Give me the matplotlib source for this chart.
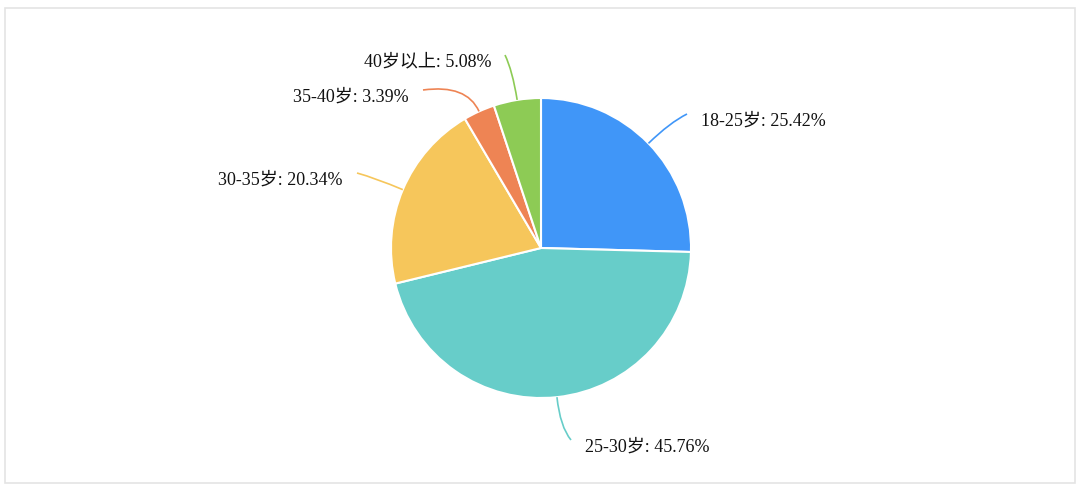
import matplotlib
matplotlib.use('Agg')
import matplotlib.pyplot as plt
import numpy as np
from matplotlib.path import Path
from matplotlib.patches import PathPatch, Rectangle

# 年龄分布数据
labels = ['18-25岁', '25-30岁', '30-35岁', '35-40岁', '40岁以上']
shares = [25.42, 45.76, 20.34, 3.39, 5.08]
colors = ['#4096f8', '#67cdc9', '#f6c65b', '#ee8454', '#8dcb55']

# 标签引线终点 (像素, 原点在左上)
label_end = [(687, 114), (571, 440), (357, 173), (423, 90), (505, 55)]
label_side = ['left', 'left', 'right', 'right', 'right']

W, H = 1080, 487
fig = plt.figure(figsize=(W / 100, H / 100), dpi=100)
ax = fig.add_axes([0, 0, 1, 1])

fam = ['Liberation Serif', 'Noto Sans CJK SC']

# 外框
ax.add_patch(Rectangle((5, H - 483), 1070, 475, fill=False, ec='#e4e4e4', lw=1.2))

cx, cy, r = 541, H - 248, 150
wedges, _ = ax.pie(shares, colors=colors, startangle=90, counterclock=False,
                   center=(cx, cy), radius=r, frame=True,
                   wedgeprops=dict(edgecolor='white', linewidth=1.5))
ax.set_xlim(0, W)
ax.set_ylim(0, H)
ax.set_aspect('equal')
ax.axis('off')

for w, lab, s, col, end, side in zip(wedges, labels, shares, colors, label_end, label_side):
    mid = np.deg2rad((w.theta1 + w.theta2) / 2)
    p0 = (cx + r * np.cos(mid), cy + r * np.sin(mid))
    c = (cx + (r + 30) * np.cos(mid), cy + (r + 30) * np.sin(mid))
    p2 = (end[0], H - end[1])
    path = Path([p0, c, p2], [Path.MOVETO, Path.CURVE3, Path.CURVE3])
    ax.add_patch(PathPatch(path, fill=False, ec=col, lw=1.2))
    tx = p2[0] + 14 if side == 'left' else p2[0] - 14
    ax.text(tx, p2[1] - 7, f'{lab}: {s:.2f}%', ha=side, va='center',
            fontsize=13, family=fam, color='#111111')

fig.savefig('out.png', dpi=100)
